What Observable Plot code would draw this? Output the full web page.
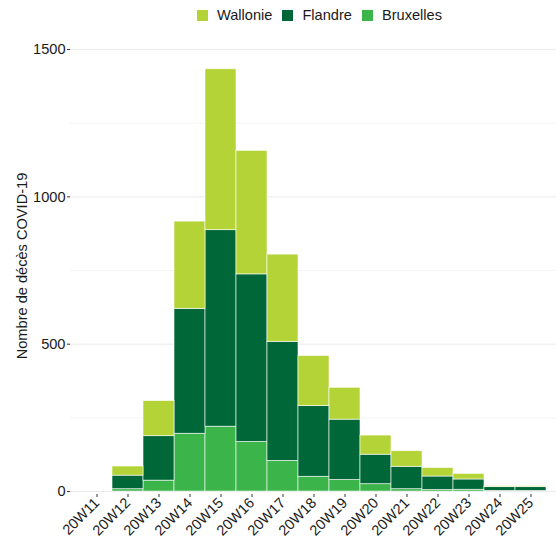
<!DOCTYPE html>
<html>
<head>
<meta charset="utf-8">
<script src="https://cdn.jsdelivr.net/npm/d3@7"></script>
<script src="https://cdn.jsdelivr.net/npm/@observablehq/plot@0.6"></script>
<style>
  html, body { margin: 0; padding: 0; background: #fff; }
  body { width: 556px; height: 550px; overflow: hidden; font-family: "Liberation Sans", Arial, sans-serif; }
  #legend { height: 30px; display: flex; align-items: center; padding-left: 197px; font-size: 14.6px; color: #1a1a1a; box-sizing: border-box; }
  #legend .item { display: flex; align-items: center; margin-right: 10px; }
  #legend .sw { width: 11px; height: 11px; margin-right: 9px; }
  #chart svg { display: block; font-family: "Liberation Sans", Arial, sans-serif !important; }
  #chart svg text { font-family: "Liberation Sans", Arial, sans-serif !important; font-size: 14.6px; fill: #1a1a1a; }
</style>
</head>
<body>
<div id="legend"></div>
<div id="chart"></div>
<script>
const weeks = ["20W11","20W12","20W13","20W14","20W15","20W16","20W17","20W18","20W19","20W20","20W21","20W22","20W23","20W24","20W25"];
const bruxelles = [0, 8, 37, 196, 220, 168, 104, 50, 39, 25, 8, 5, 6, 2, 2];
const flandre   = [0, 46, 151, 424, 667, 569, 404, 240, 205, 100, 76, 46, 35, 13, 13];
const wallonie  = [0, 31, 119, 296, 546, 419, 296, 170, 108, 65, 53, 29, 19, 3, 3];
const regions = ["Wallonie", "Flandre", "Bruxelles"];
const colors = ["#b4d336", "#006838", "#3bb44a"];
const majorTicks = [0, 500, 1000, 1500];
const minorTicks = [250, 750, 1250];
const yLabel = "Nombre de décès COVID-19";

const series = {Bruxelles: bruxelles, Flandre: flandre, Wallonie: wallonie};
const data = [];
for (const r of ["Bruxelles", "Flandre", "Wallonie"]) {
  weeks.forEach((w, i) => data.push({week: w, region: r, value: series[r][i]}));
}

// legend
const leg = document.getElementById("legend");
regions.forEach((r, i) => {
  const it = document.createElement("div");
  it.className = "item";
  const sw = document.createElement("div");
  sw.className = "sw";
  sw.style.background = colors[i];
  const t = document.createElement("span");
  t.textContent = r;
  it.appendChild(sw); it.appendChild(t);
  leg.appendChild(it);
});

const chart = Plot.plot({
  width: 556,
  height: 520,
  marginLeft: 70,
  marginRight: 0,
  marginTop: 19,
  marginBottom: 56,
  x: {domain: weeks, paddingInner: 0, paddingOuter: 0.1, label: null},
  y: {domain: [-10, 1500], label: null},
  color: {domain: regions, range: colors},
  marks: [
    Plot.ruleY(minorTicks, {stroke: "#f4f4f4", strokeWidth: 1}),
    Plot.ruleY(majorTicks, {stroke: "#ebebeb", strokeWidth: 1}),
    Plot.barY(data, {x: "week", y: "value", fill: "region", stroke: "white", strokeWidth: 0.8, strokeOpacity: 0.75}),
    Plot.axisY({ticks: majorTicks, tickFormat: d3.format("d"), tickSize: 3, tickPadding: 2, stroke: "#333", label: null}),
    Plot.axisX({tickSize: 3, tickPadding: 3, tickRotate: -45, stroke: "#333", label: null}),
    Plot.text([yLabel], {frameAnchor: "left", textAnchor: "middle", rotate: -90, dx: -48, dy: -6})
  ]
});
document.getElementById("chart").appendChild(chart);
</script>
</body>
</html>
